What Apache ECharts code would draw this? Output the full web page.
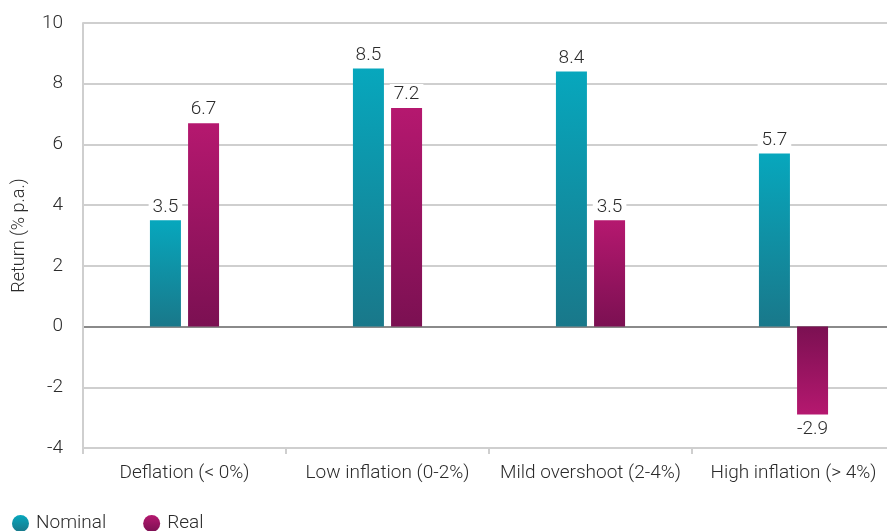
<!DOCTYPE html>
<html>
<head>
<meta charset="utf-8">
<script src="https://cdn.jsdelivr.net/npm/echarts@6/dist/echarts.min.js"></script>
<style>
  html, body { margin: 0; padding: 0; background: #fff; overflow: hidden; }
  /* the plot runs a few pixels past the right edge of the page */
  #chart { width: 895px; height: 531px; }
</style>
</head>
<body>
<div id="chart"></div>
<script>
// Inflation regimes and returns (% p.a.)
const categories = ['Deflation (< 0%)', 'Low inflation (0-2%)', 'Mild overshoot (2-4%)', 'High inflation (> 4%)'];
const nominalValues = [3.5, 8.5, 8.4, 5.7];
const realValues = [6.7, 7.2, 3.5, -2.9];
const yTicks = [-4, -2, 0, 2, 4, 6, 8, 10];

const FONT = 'Roboto';
const WEIGHT = 300;
const TEXT = '#2b2b2b';

function grad(bright, dark, negative) {
  // bright end sits at the value end of the bar, dark end at zero
  const stops = negative
    ? [{ offset: 0, color: dark }, { offset: 1, color: bright }]
    : [{ offset: 0, color: bright }, { offset: 1, color: dark }];
  return new echarts.graphic.LinearGradient(0, 0, 0, 1, stops);
}

const nominalBright = '#07a7bd', nominalDark = '#19788a';
const realBright = '#b5186f', realDark = '#7b1052';

function toItems(values, bright, dark) {
  return values.map(v => {
    const item = { value: v, itemStyle: { color: grad(bright, dark, v < 0) } };
    if (v < 0) item.label = { position: 'bottom' };
    return item;
  });
}

const labelStyle = {
  show: true,
  position: 'top',
  fontFamily: FONT,
  fontWeight: WEIGHT,
  fontSize: 19,
  color: TEXT,
  backgroundColor: '#fff',
  padding: [1, 4, 0, 4],
  distance: 4
};

const splitColors = yTicks.map(t => (t === 0 ? '#8a8a8a' : '#cfcfcf'));

const chart = echarts.init(document.getElementById('chart'), null, { renderer: 'canvas' });
chart.setOption({
  animation: false,
  backgroundColor: '#fff',
  textStyle: { fontFamily: FONT },
  grid: { left: 83, right: 0, top: 23, bottom: 83, containLabel: false },
  legend: {
    left: 7,
    top: 509,
    icon: 'circle',
    itemWidth: 17,
    itemHeight: 17,
    itemGap: 37,
    textStyle: { fontFamily: FONT, fontWeight: WEIGHT, fontSize: 19, color: TEXT, padding: [0, 0, 0, 2] },
    data: ['Nominal', 'Real']
  },
  xAxis: {
    type: 'category',
    data: categories,
    axisLine: { show: true, onZero: false, lineStyle: { color: '#cfcfcf', width: 2 } },
    axisTick: { show: true, length: 6, lineStyle: { color: '#cfcfcf', width: 2 } },
    axisLabel: { interval: 0, fontFamily: FONT, fontWeight: WEIGHT, fontSize: 19, color: TEXT, margin: 16 }
  },
  yAxis: {
    type: 'value',
    min: -4,
    max: 10,
    interval: 2,
    name: 'Return (% p.a.)',
    nameLocation: 'middle',
    nameRotate: 90,
    nameGap: 55,
    nameTextStyle: { fontFamily: FONT, fontWeight: WEIGHT, fontSize: 18, color: TEXT },
    axisLine: { show: true, lineStyle: { color: '#cfcfcf', width: 2 } },
    axisTick: { show: false },
    axisLabel: { fontFamily: FONT, fontWeight: WEIGHT, fontSize: 19, color: TEXT, margin: 20 },
    splitLine: { show: true, lineStyle: { color: splitColors, width: 2 } }
  },
  series: [
    {
      name: 'Nominal',
      type: 'bar',
      barWidth: 31,
      barGap: '23%',
      itemStyle: { color: grad(nominalBright, nominalDark, false) },
      label: labelStyle,
      data: toItems(nominalValues, nominalBright, nominalDark)
    },
    {
      name: 'Real',
      type: 'bar',
      barWidth: 31,
      itemStyle: { color: grad(realBright, realDark, false) },
      label: labelStyle,
      data: toItems(realValues, realBright, realDark)
    }
  ]
});
</script>
</body>
</html>
